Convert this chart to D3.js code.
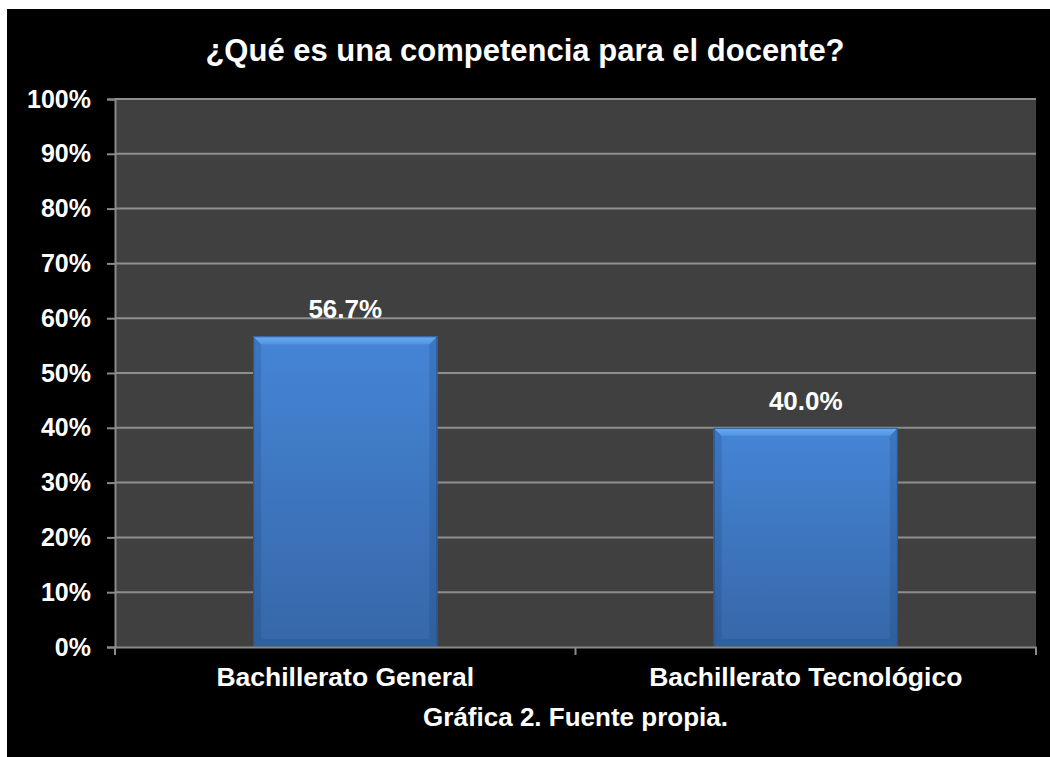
<!DOCTYPE html>
<html>
<head>
<meta charset="utf-8">
<script src="https://cdn.jsdelivr.net/npm/d3@7"></script>
<style>
  html, body { margin: 0; padding: 0; background: #ffffff; }
  svg { display: block; }
  text { font-family: "Liberation Sans", Arial, Helvetica, sans-serif; font-weight: bold; fill: #ffffff; }
</style>
</head>
<body>
<svg id="chart" width="1050" height="757"></svg>
<script>
// Chart data
const title = "¿Qué es una competencia para el docente?";
const caption = "Gráfica 2. Fuente propia.";
const categories = ["Bachillerato General", "Bachillerato Tecnológico"];
const values = [0.567, 0.40];
const valueLabels = ["56.7%", "40.0%"];
const yTicks = [0, 0.1, 0.2, 0.3, 0.4, 0.5, 0.6, 0.7, 0.8, 0.9, 1.0];

const W = 1050, H = 757;
const plot = { left: 115, right: 1036, top: 99, bottom: 647 };

const svg = d3.select("#chart");

// Black card behind the chart
svg.append("rect")
  .attr("x", 7).attr("y", 9)
  .attr("width", W - 7).attr("height", H - 9)
  .attr("fill", "#000000");

// Gradients for the bevelled bars
const defs = svg.append("defs");
const body = defs.append("linearGradient").attr("id", "barBody")
  .attr("x1", 0).attr("y1", 0).attr("x2", 0).attr("y2", 1);
body.append("stop").attr("offset", "0%").attr("stop-color", "#4585d6");
body.append("stop").attr("offset", "100%").attr("stop-color", "#3667a8");

const topBevel = defs.append("linearGradient").attr("id", "barTop")
  .attr("x1", 0).attr("y1", 0).attr("x2", 0).attr("y2", 1);
topBevel.append("stop").attr("offset", "0%").attr("stop-color", "#6cacf2");
topBevel.append("stop").attr("offset", "100%").attr("stop-color", "#5294e2");

const sideBevel = defs.append("linearGradient").attr("id", "barSide")
  .attr("x1", 0).attr("y1", 0).attr("x2", 0).attr("y2", 1);
sideBevel.append("stop").attr("offset", "0%").attr("stop-color", "#3c76c2");
sideBevel.append("stop").attr("offset", "100%").attr("stop-color", "#2f5e9c");

// Scales
const x = d3.scaleBand()
  .domain(categories)
  .range([plot.left, plot.right])
  .paddingInner(0.6)
  .paddingOuter(0.3);

const y = d3.scaleLinear()
  .domain([0, 1])
  .range([plot.bottom, plot.top]);

// Plot background
svg.append("rect")
  .attr("x", plot.left).attr("y", plot.top)
  .attr("width", plot.right - plot.left)
  .attr("height", plot.bottom - plot.top)
  .attr("fill", "#404040");

// Horizontal gridlines
svg.append("g")
  .selectAll("line")
  .data(yTicks.filter(d => d > 0))
  .join("line")
  .attr("x1", plot.left).attr("x2", plot.right)
  .attr("y1", d => y(d)).attr("y2", d => y(d))
  .attr("stroke", "#8e8e8e")
  .attr("stroke-width", 2);

// Y axis
const yAxis = svg.append("g")
  .attr("transform", `translate(${plot.left},0)`)
  .call(d3.axisLeft(y).tickValues(yTicks).tickFormat(d3.format(".0%")).tickSize(8).tickPadding(16));
yAxis.select(".domain").attr("stroke", "#8a8a8a").attr("stroke-width", 2);
yAxis.selectAll(".tick line").attr("stroke", "#8a8a8a").attr("stroke-width", 2);
yAxis.selectAll(".tick text")
  .attr("fill", "#ffffff")
  .style("font-size", "25px")
  .style("font-family", "'Liberation Sans', Arial, sans-serif")
  .style("font-weight", "bold");

// Bars with bevelled edges
const bev = 8;
const bars = svg.append("g")
  .selectAll("g")
  .data(categories.map((c, i) => ({ c, v: values[i], label: valueLabels[i] })))
  .join("g");

bars.each(function (d) {
  const g = d3.select(this);
  const x0 = x(d.c), w = x.bandwidth();
  const y0 = y(d.v), y1 = y(0), h = y1 - y0;
  const pts = a => a.map(p => p.join(",")).join(" ");
  g.append("rect")
    .attr("x", x0).attr("y", y0).attr("width", w).attr("height", h)
    .attr("fill", "url(#barBody)");
  // left and right edges
  g.append("polygon")
    .attr("points", pts([[x0, y0], [x0 + bev, y0 + bev], [x0 + bev, y1 - bev], [x0, y1]]))
    .attr("fill", "url(#barSide)");
  g.append("polygon")
    .attr("points", pts([[x0 + w, y0], [x0 + w - bev, y0 + bev], [x0 + w - bev, y1 - bev], [x0 + w, y1]]))
    .attr("fill", "url(#barSide)");
  // bottom edge
  g.append("polygon")
    .attr("points", pts([[x0, y1], [x0 + bev, y1 - bev], [x0 + w - bev, y1 - bev], [x0 + w, y1]]))
    .attr("fill", "#30609e");
  // top highlight
  g.append("polygon")
    .attr("points", pts([[x0, y0], [x0 + w, y0], [x0 + w - bev, y0 + bev], [x0 + bev, y0 + bev]]))
    .attr("fill", "url(#barTop)");
  // outline
  g.append("rect")
    .attr("x", x0 + 0.5).attr("y", y0 + 0.5).attr("width", w - 1).attr("height", h - 1)
    .attr("fill", "none").attr("stroke", "#2c5488").attr("stroke-width", 1);
  // value label
  g.append("text")
    .attr("x", x0 + w / 2).attr("y", y0 - 18)
    .attr("text-anchor", "middle")
    .style("font-size", "26px")
    .text(d.label);
});

// X axis
const xAxis = svg.append("g")
  .attr("transform", `translate(0,${plot.bottom})`)
  .call(d3.axisBottom(x).tickSize(0).tickPadding(20));
xAxis.select(".domain").attr("stroke", "#8a8a8a").attr("stroke-width", 2);
xAxis.selectAll(".tick text")
  .attr("fill", "#ffffff")
  .style("font-size", "26.5px")
  .style("font-family", "'Liberation Sans', Arial, sans-serif")
  .style("font-weight", "bold");

// Category boundary tick marks
const boundaries = [plot.left, (plot.left + plot.right) / 2, plot.right];
svg.append("g")
  .selectAll("line")
  .data(boundaries)
  .join("line")
  .attr("x1", d => d).attr("x2", d => d)
  .attr("y1", plot.bottom).attr("y2", plot.bottom + 8)
  .attr("stroke", "#8a8a8a").attr("stroke-width", 2);

// Title
svg.append("text")
  .attr("x", 525).attr("y", 61)
  .attr("text-anchor", "middle")
  .style("font-size", "31px")
  .text(title);

// Caption
svg.append("text")
  .attr("x", (plot.left + plot.right) / 2).attr("y", 726)
  .attr("text-anchor", "middle")
  .style("font-size", "26px")
  .text(caption);
</script>
</body>
</html>
